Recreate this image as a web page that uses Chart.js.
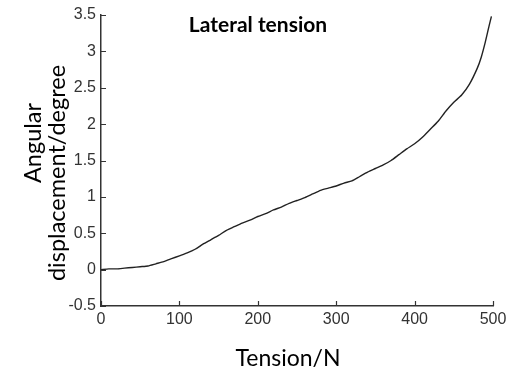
<!DOCTYPE html>
<html>
<head>
<meta charset="utf-8">
<script src="https://cdn.jsdelivr.net/npm/chart.js@4"></script>
<style>
  html, body { margin: 0; padding: 0; background: #fff; }
  #wrap { width: 511px; height: 368px; }
</style>
</head>
<body>
<div id="wrap"><canvas id="tensionChart" width="511" height="368"></canvas></div>
<script>
// tension (N) and angular displacement (degree)
const tension = [0, 10, 20, 30, 40, 50, 60, 70, 80, 90,
    100, 110, 120, 130, 140, 150, 160, 170, 180, 190,
    200, 210, 220, 230, 240, 250, 260, 270, 280, 290,
    300, 310, 320, 330, 340, 350, 360, 370, 380, 390,
    400, 410, 420, 430, 440, 450, 460, 470, 480, 485, 490, 495, 498];
const displacement = [0.00, 0.01, 0.01, 0.02, 0.03, 0.04, 0.05, 0.08, 0.11, 0.15,
    0.19, 0.23, 0.28, 0.35, 0.41, 0.47, 0.54, 0.59, 0.64, 0.68,
    0.73, 0.77, 0.82, 0.86, 0.91, 0.95, 0.99, 1.04, 1.09, 1.12,
    1.15, 1.19, 1.22, 1.28, 1.34, 1.39, 1.44, 1.50, 1.58, 1.66,
    1.73, 1.82, 1.93, 2.04, 2.18, 2.30, 2.40, 2.55, 2.77, 2.92, 3.12, 3.35, 3.48];
const xTicks = [0, 100, 200, 300, 400, 500];
const yTicks = [-0.5, 0, 0.5, 1, 1.5, 2, 2.5, 3, 3.5];

const titleFont = 'Lato, "Open Sans", sans-serif';
const tickFont = { family: '"Liberation Sans", Arial, sans-serif', size: 16 };
const axisColor = '#333';

// inward tick marks, the title and the axis labels
const extras = {
    id: 'extras',
    afterDraw(chart) {
        const { ctx, chartArea, scales } = chart;
        ctx.save();
        ctx.strokeStyle = axisColor;
        ctx.lineWidth = 1.2;
        ctx.beginPath();
        xTicks.forEach(v => {
            const px = Math.round(scales.x.getPixelForValue(v)) + 0.5;
            ctx.moveTo(px, chartArea.bottom);
            ctx.lineTo(px, chartArea.bottom - 5);
        });
        yTicks.forEach(v => {
            const py = Math.round(scales.y.getPixelForValue(v)) + 0.5;
            ctx.moveTo(chartArea.left, py);
            ctx.lineTo(chartArea.left + 5, py);
        });
        ctx.stroke();

        ctx.fillStyle = '#000';
        ctx.textAlign = 'center';
        ctx.textBaseline = 'middle';
        ctx.font = 'bold 21px ' + titleFont;
        ctx.fillText('Lateral tension', 258, 25);

        ctx.font = '23px ' + titleFont;
        ctx.fillText('Tension/N', 288, 359);

        ctx.font = '23.5px ' + titleFont;
        ctx.save();
        ctx.translate(33, 143);
        ctx.rotate(-Math.PI / 2);
        ctx.fillText('Angular', 0, 0);
        ctx.restore();
        ctx.translate(57, 173);
        ctx.rotate(-Math.PI / 2);
        ctx.fillText('displacement/degree', 0, 0);
        ctx.restore();
    }
};

new Chart(document.getElementById('tensionChart'), {
    type: 'line',
    data: {
        datasets: [{
            data: tension.map((t, i) => ({ x: t, y: displacement[i] })),
            borderColor: '#222',
            borderWidth: 1.4,
            pointRadius: 0,
            tension: 0.2,
            fill: false
        }]
    },
    options: {
        responsive: false,
        animation: false,
        layout: { padding: { left: 0, right: 18, top: 15, bottom: 0 } },
        plugins: { legend: { display: false }, tooltip: { enabled: false } },
        scales: {
            x: {
                type: 'linear',
                min: 0,
                max: 500,
                afterBuildTicks: s => { s.ticks = xTicks.map(v => ({ value: v })); },
                afterFit: s => { s.height = 62; },
                grid: { drawOnChartArea: false, drawTicks: false },
                border: { display: true, color: axisColor, width: 1.5 },
                ticks: { padding: 4, color: '#333', font: tickFont, maxRotation: 0 }
            },
            y: {
                min: -0.5,
                max: 3.5,
                afterBuildTicks: s => { s.ticks = yTicks.map(v => ({ value: v })); },
                afterFit: s => { s.width = 101; },
                grid: { drawOnChartArea: false, drawTicks: false },
                border: { display: true, color: axisColor, width: 1.5 },
                ticks: {
                    padding: 5,
                    color: '#333',
                    font: tickFont,
                    callback: v => String(v)
                }
            }
        }
    },
    plugins: [extras]
});
</script>
</body>
</html>
